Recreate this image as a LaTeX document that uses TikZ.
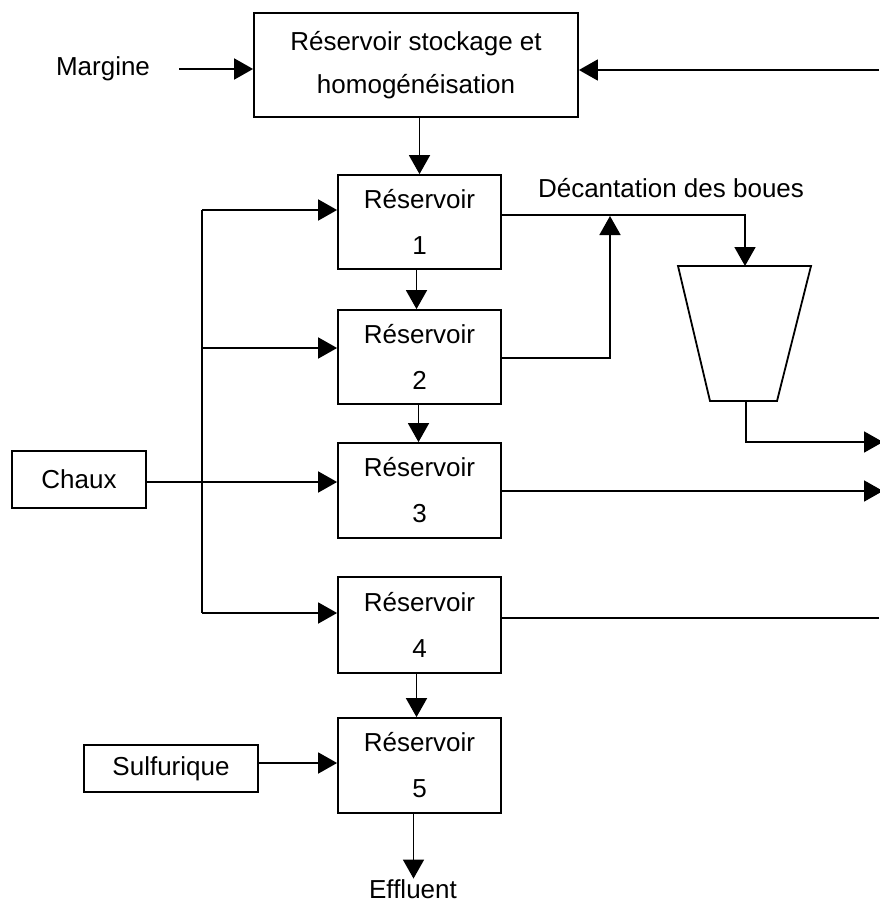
\documentclass[tikz,border=0pt]{standalone}
\usepackage{fontspec}
\setmainfont{Liberation Sans}
\usetikzlibrary{arrows.meta}
\begin{document}
\begin{tikzpicture}[x=1pt,y=-1pt,
  line width=1.8pt,
  arr/.style={-{Triangle[length=19pt,width=21pt]}},
  box/.style={draw,line width=1.8pt,inner sep=0pt,align=center,font=\fontsize{26}{46}\selectfont},
  lbl/.style={inner sep=0pt,font=\fontsize{26}{31}\selectfont}]
\useasboundingbox (0,0) rectangle (879,904);

% tanks and reagent boxes
\node[box,minimum width=324pt,minimum height=104pt,font=\fontsize{26}{43}\selectfont] (top) at (416,65) {Réservoir stockage et\\homogénéisation};
\node[box,minimum width=163pt,minimum height=94pt] (r1) at (419.5,222) {Réservoir\\1};
\node[box,minimum width=163pt,minimum height=94pt] (r2) at (419.5,357) {Réservoir\\2};
\node[box,minimum width=163pt,minimum height=95pt] (r3) at (419.5,490.5) {Réservoir\\3};
\node[box,minimum width=163pt,minimum height=96pt] (r4) at (419.5,625) {Réservoir\\4};
\node[box,minimum width=163pt,minimum height=95pt] (r5) at (419.5,765.5) {Réservoir\\5};
\node[box,minimum width=134pt,minimum height=57pt] (chaux) at (79,479.5) {Chaux};
\node[box,minimum width=174pt,minimum height=47pt] (sulf) at (171,768.5) {\raisebox{5pt}{Sulfurique}};

% free labels
\node[lbl] (margine) at (103,69) {Margine};
\node[lbl] (decant) at (671,188) {Décantation des boues};
\node[lbl] (effluent) at (413,889) {Effluent};

% settling cone
\coordinate (tl) at (678,266);
\coordinate (tr) at (811,266);
\coordinate (br) at (777,401);
\coordinate (bl) at (710,401);
\draw (tl) -- (tr) -- (br) -- (bl) -- cycle;
\coordinate (ctop) at (745,266);
\coordinate (cbot) at (746,401);

% inlet and recycle to the storage tank
\coordinate (mstart) at (179,69);
\draw[arr] (mstart) -- (mstart -| top.west);
\coordinate (fb) at (879,70);
\draw[arr] (fb) -- (fb -| top.east);

% main chain
\draw[arr] (r1.north |- top.south) -- (r1.north);
\draw[arr] ([xshift=-3pt]r1.south) -- ([xshift=-3pt]r2.north);
\draw[arr] ([xshift=-1pt]r2.south) -- ([xshift=-1pt]r3.north);
\draw[arr] ([xshift=-3pt]r4.south) -- ([xshift=-3pt]r5.north);
\draw[arr] ([xshift=-6pt]r5.south) -- ([xshift=-6pt]r5.south |- effluent.north);

% lime distribution
\coordinate (b1) at (202,210);
\coordinate (b2) at (202,348);
\coordinate (b4) at (202,613);
\draw (b1) -- (b4);
\draw[arr] (b1) -- (b1 -| r1.west);
\draw[arr] (b2) -- (b2 -| r2.west);
\draw[arr] (b4) -- (b4 -| r4.west);
\coordinate (c3) at (146,482);
\draw[arr] (chaux.east |- c3) -- (c3 -| r3.west);

% sulfuric acid
\coordinate (s5) at (258,763);
\draw[arr] (sulf.east |- s5) -- (s5 -| r5.west);

% sludge to the settler
\coordinate (j1) at (745,215);
\draw[arr] (r1.east |- j1) -- (j1) -- (ctop);
\coordinate (j2) at (610,358);
\coordinate (j2t) at (610,216);
\draw[arr] (r2.east |- j2) -- (j2) -- (j2t);

% outlets to the right
\coordinate (o1) at (746,442);
\coordinate (o1e) at (883,442);
\draw[arr] (cbot) -- (o1) -- (o1e);
\coordinate (o3) at (883,491);
\draw[arr] (r3.east |- o3) -- (o3);
\coordinate (o4) at (879,618);
\draw (r4.east |- o4) -- (o4);
\end{tikzpicture}
\end{document}
